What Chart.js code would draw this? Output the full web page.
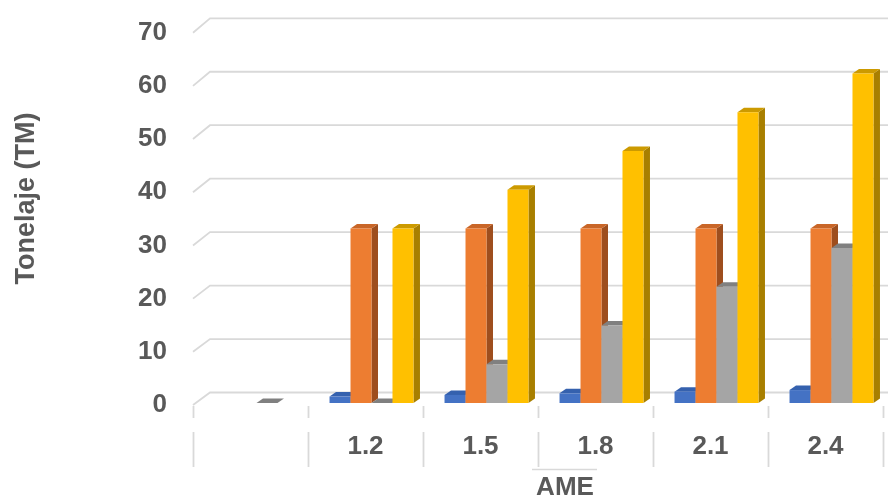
<!DOCTYPE html>
<html>
<head>
<meta charset="utf-8">
<script src="https://cdn.jsdelivr.net/npm/chart.js@4.4.1/dist/chart.umd.min.js"></script>
<style>
  html, body { margin: 0; padding: 0; background: #ffffff; }
  #wrap { width: 888px; height: 497px; }
</style>
</head>
<body>
<div id="wrap"><canvas id="chart" width="888" height="497"></canvas></div>
<script>
// Categories (AME) and the four series of tonnage values
const categories = ['', '1.2', '1.5', '1.8', '2.1', '2.4'];
const serie1 = [null, 1.2, 1.5, 1.8, 2.1, 2.4];
const serie2 = [null, 32.4, 32.4, 32.4, 32.4, 32.4];
const serie3 = [0, 0, 7.2, 14.4, 21.6, 28.8];
const serie4 = [null, 32.4, 39.6, 46.8, 54.0, 61.2];
const yTicks = [0, 10, 20, 30, 40, 50, 60, 70];
const yTitle = 'Tonelaje (TM)';
const xTitle = 'AME';

// Styling
const FAMILY = '"Liberation Sans", Arial, Helvetica, sans-serif';
const TEXT = '#595959';
const GRID = '#D9D9D9';
const COLORS = [
  { front: '#4472C4', top: '#3561AE', side: '#2C4F8E' },
  { front: '#ED7D31', top: '#C96628', side: '#9E4E1E' },
  { front: '#A5A5A5', top: '#808080', side: '#6E6E6E' },
  { front: '#FFC000', top: '#CC9A00', side: '#A87F00' }
];
// 3D geometry of the box: back wall offset and bar depth
const WALL_DX = 17, WALL_DY = 12.5;
const BAR_DX = 6.5, BAR_DY = 4.5, BAR_SHIFT = 6;

const box3d = {
  id: 'box3d',
  beforeDatasetsDraw(chart) {
    const { ctx, chartArea: a, scales } = chart;
    const front = scales.front, x = scales.x;
    ctx.save();
    ctx.strokeStyle = GRID;
    ctx.lineWidth = 1.8;
    // back wall gridlines with the diagonal from the front edge
    yTicks.forEach(v => {
      const fy = front.getPixelForValue(v);
      const by = fy - WALL_DY - v * 0.027;
      ctx.beginPath();
      ctx.moveTo(a.left, fy);
      ctx.lineTo(a.left + WALL_DX, by);
      ctx.lineTo(chart.width, by);
      ctx.stroke();
    });
    // category separators on the floor edge and in the label row
    const step = x.getPixelForValue(1) - x.getPixelForValue(0);
    for (let i = 0; i <= categories.length; i++) {
      const bx = Math.round(x.getPixelForValue(0) - step / 2 + i * step) + 0.5;
      ctx.beginPath();
      ctx.moveTo(bx, a.bottom + 3);
      ctx.lineTo(bx, a.bottom + 15);
      ctx.moveTo(bx, a.bottom + 29);
      ctx.lineTo(bx, a.bottom + 64);
      ctx.stroke();
    }
    ctx.restore();
  },
  beforeDatasetDraw() {
    // bars are drawn together below so the faces overlap in the right order
    return false;
  },
  afterDatasetsDraw(chart) {
    const { ctx } = chart;
    ctx.save();
    ctx.translate(BAR_SHIFT, 0);
    for (let i = 0; i < categories.length; i++) {
      chart.data.datasets.forEach((ds, d) => {
        if (ds.data[i] === null || ds.data[i] === undefined) return;
        const el = chart.getDatasetMeta(d).data[i];
        const { x, y, base, width } = el.getProps(['x', 'y', 'base', 'width'], true);
        const l = x - width / 2, r = x + width / 2;
        const c = COLORS[d];
        // right side face
        ctx.fillStyle = c.side;
        ctx.beginPath();
        ctx.moveTo(r, y);
        ctx.lineTo(r + BAR_DX, y - BAR_DY);
        ctx.lineTo(r + BAR_DX, base - BAR_DY);
        ctx.lineTo(r, base);
        ctx.closePath();
        ctx.fill();
        // top face
        ctx.fillStyle = c.top;
        ctx.beginPath();
        ctx.moveTo(l, y);
        ctx.lineTo(l + BAR_DX, y - BAR_DY);
        ctx.lineTo(r + BAR_DX, y - BAR_DY);
        ctx.lineTo(r, y);
        ctx.closePath();
        ctx.fill();
        // front face
        el.draw(ctx);
      });
    }
    ctx.restore();
  },
  afterDraw(chart) {
    const { ctx } = chart;
    ctx.save();
    ctx.fillStyle = TEXT;
    // vertical axis title
    ctx.font = 'bold 27px ' + FAMILY;
    ctx.translate(34, 198.5);
    ctx.rotate(-Math.PI / 2);
    ctx.textAlign = 'center';
    ctx.textBaseline = 'alphabetic';
    ctx.fillText(yTitle, 0, 0);
    ctx.restore();
    // horizontal axis title with its rule above
    ctx.save();
    ctx.strokeStyle = GRID;
    ctx.lineWidth = 1.5;
    ctx.beginPath();
    ctx.moveTo(532, 469.5);
    ctx.lineTo(597, 469.5);
    ctx.stroke();
    ctx.fillStyle = TEXT;
    ctx.font = 'bold 26px ' + FAMILY;
    ctx.textAlign = 'center';
    ctx.textBaseline = 'alphabetic';
    ctx.fillText(xTitle, 565, 494.5);
    ctx.restore();
  }
};

const mk = (label, data, d) => ({
  label, data,
  backgroundColor: COLORS[d].front,
  borderWidth: 0,
  barPercentage: 1,
  categoryPercentage: 0.73
});

new Chart(document.getElementById('chart'), {
  type: 'bar',
  data: {
    labels: categories,
    datasets: [
      mk('Serie1', serie1, 0),
      mk('Serie2', serie2, 1),
      mk('Serie3', serie3, 2),
      mk('Serie4', serie4, 3)
    ]
  },
  options: {
    responsive: false,
    animation: false,
    layout: { autoPadding: false, padding: { left: 113, right: 5, top: 26, bottom: 0 } },
    plugins: { legend: { display: false }, tooltip: { enabled: false } },
    scales: {
      x: {
        grid: { display: false, drawTicks: false },
        border: { display: false },
        ticks: { color: TEXT, font: { family: FAMILY, size: 26, weight: 'bold' }, padding: 28, maxRotation: 0, autoSkip: false },
        afterFit(s) { s.height = 94; }
      },
      y: {
        display: false,
        min: 0, max: 70
      },
      // front plane of the box, carries the value labels
      front: {
        type: 'linear',
        position: 'left',
        min: 0.376, max: 71.26,
        bounds: 'data',
        grid: { display: false, drawTicks: false },
        border: { display: false },
        ticks: { color: TEXT, font: { family: FAMILY, size: 26, weight: 'bold' }, padding: 26 },
        afterBuildTicks(s) { s.ticks = yTicks.map(v => ({ value: v })); },
        afterFit(s) { s.width = 80; s.paddingTop = 0; s.paddingBottom = 0; }
      }
    }
  },
  plugins: [box3d]
});
</script>
</body>
</html>
